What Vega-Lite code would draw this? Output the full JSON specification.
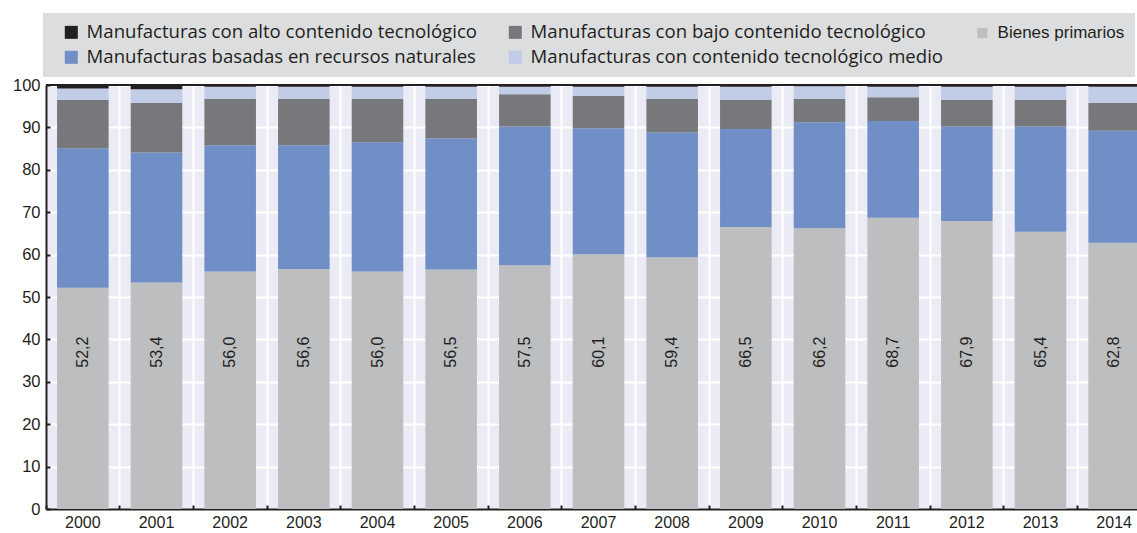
{
  "$schema": "https://vega.github.io/schema/vega-lite/v6.json",
  "autosize": {"type": "none"},
  "padding": {"left": 46, "top": 85, "right": 0, "bottom": 24},
  "width": 1091,
  "height": 424,
  "background": "white",
  "data": {"values": [
    {"year": "2000", "cat": "Bienes primarios", "value": 52.2},
    {"year": "2000", "cat": "Manufacturas basadas en recursos naturales", "value": 32.9},
    {"year": "2000", "cat": "Manufacturas con bajo contenido tecnológico", "value": 11.4},
    {"year": "2000", "cat": "Manufacturas con contenido tecnológico medio", "value": 2.7},
    {"year": "2000", "cat": "Manufacturas con alto contenido tecnológico", "value": 0.8},
    {"year": "2001", "cat": "Bienes primarios", "value": 53.4},
    {"year": "2001", "cat": "Manufacturas basadas en recursos naturales", "value": 30.7},
    {"year": "2001", "cat": "Manufacturas con bajo contenido tecnológico", "value": 11.7},
    {"year": "2001", "cat": "Manufacturas con contenido tecnológico medio", "value": 3.2},
    {"year": "2001", "cat": "Manufacturas con alto contenido tecnológico", "value": 1.0},
    {"year": "2002", "cat": "Bienes primarios", "value": 56.0},
    {"year": "2002", "cat": "Manufacturas basadas en recursos naturales", "value": 29.8},
    {"year": "2002", "cat": "Manufacturas con bajo contenido tecnológico", "value": 10.9},
    {"year": "2002", "cat": "Manufacturas con contenido tecnológico medio", "value": 2.9},
    {"year": "2002", "cat": "Manufacturas con alto contenido tecnológico", "value": 0.4},
    {"year": "2003", "cat": "Bienes primarios", "value": 56.6},
    {"year": "2003", "cat": "Manufacturas basadas en recursos naturales", "value": 29.2},
    {"year": "2003", "cat": "Manufacturas con bajo contenido tecnológico", "value": 10.9},
    {"year": "2003", "cat": "Manufacturas con contenido tecnológico medio", "value": 2.9},
    {"year": "2003", "cat": "Manufacturas con alto contenido tecnológico", "value": 0.4},
    {"year": "2004", "cat": "Bienes primarios", "value": 56.0},
    {"year": "2004", "cat": "Manufacturas basadas en recursos naturales", "value": 30.5},
    {"year": "2004", "cat": "Manufacturas con bajo contenido tecnológico", "value": 10.2},
    {"year": "2004", "cat": "Manufacturas con contenido tecnológico medio", "value": 2.9},
    {"year": "2004", "cat": "Manufacturas con alto contenido tecnológico", "value": 0.4},
    {"year": "2005", "cat": "Bienes primarios", "value": 56.5},
    {"year": "2005", "cat": "Manufacturas basadas en recursos naturales", "value": 30.9},
    {"year": "2005", "cat": "Manufacturas con bajo contenido tecnológico", "value": 9.3},
    {"year": "2005", "cat": "Manufacturas con contenido tecnológico medio", "value": 2.9},
    {"year": "2005", "cat": "Manufacturas con alto contenido tecnológico", "value": 0.4},
    {"year": "2006", "cat": "Bienes primarios", "value": 57.5},
    {"year": "2006", "cat": "Manufacturas basadas en recursos naturales", "value": 32.7},
    {"year": "2006", "cat": "Manufacturas con bajo contenido tecnológico", "value": 7.6},
    {"year": "2006", "cat": "Manufacturas con contenido tecnológico medio", "value": 1.8},
    {"year": "2006", "cat": "Manufacturas con alto contenido tecnológico", "value": 0.4},
    {"year": "2007", "cat": "Bienes primarios", "value": 60.1},
    {"year": "2007", "cat": "Manufacturas basadas en recursos naturales", "value": 29.7},
    {"year": "2007", "cat": "Manufacturas con bajo contenido tecnológico", "value": 7.6},
    {"year": "2007", "cat": "Manufacturas con contenido tecnológico medio", "value": 2.2},
    {"year": "2007", "cat": "Manufacturas con alto contenido tecnológico", "value": 0.4},
    {"year": "2008", "cat": "Bienes primarios", "value": 59.4},
    {"year": "2008", "cat": "Manufacturas basadas en recursos naturales", "value": 29.4},
    {"year": "2008", "cat": "Manufacturas con bajo contenido tecnológico", "value": 7.9},
    {"year": "2008", "cat": "Manufacturas con contenido tecnológico medio", "value": 2.9},
    {"year": "2008", "cat": "Manufacturas con alto contenido tecnológico", "value": 0.4},
    {"year": "2009", "cat": "Bienes primarios", "value": 66.5},
    {"year": "2009", "cat": "Manufacturas basadas en recursos naturales", "value": 23.1},
    {"year": "2009", "cat": "Manufacturas con bajo contenido tecnológico", "value": 6.9},
    {"year": "2009", "cat": "Manufacturas con contenido tecnológico medio", "value": 3.1},
    {"year": "2009", "cat": "Manufacturas con alto contenido tecnológico", "value": 0.4},
    {"year": "2010", "cat": "Bienes primarios", "value": 66.2},
    {"year": "2010", "cat": "Manufacturas basadas en recursos naturales", "value": 25.0},
    {"year": "2010", "cat": "Manufacturas con bajo contenido tecnológico", "value": 5.5},
    {"year": "2010", "cat": "Manufacturas con contenido tecnológico medio", "value": 3.0},
    {"year": "2010", "cat": "Manufacturas con alto contenido tecnológico", "value": 0.3},
    {"year": "2011", "cat": "Bienes primarios", "value": 68.7},
    {"year": "2011", "cat": "Manufacturas basadas en recursos naturales", "value": 22.8},
    {"year": "2011", "cat": "Manufacturas con bajo contenido tecnológico", "value": 5.6},
    {"year": "2011", "cat": "Manufacturas con contenido tecnológico medio", "value": 2.5},
    {"year": "2011", "cat": "Manufacturas con alto contenido tecnológico", "value": 0.4},
    {"year": "2012", "cat": "Bienes primarios", "value": 67.9},
    {"year": "2012", "cat": "Manufacturas basadas en recursos naturales", "value": 22.3},
    {"year": "2012", "cat": "Manufacturas con bajo contenido tecnológico", "value": 6.3},
    {"year": "2012", "cat": "Manufacturas con contenido tecnológico medio", "value": 3.1},
    {"year": "2012", "cat": "Manufacturas con alto contenido tecnológico", "value": 0.4},
    {"year": "2013", "cat": "Bienes primarios", "value": 65.4},
    {"year": "2013", "cat": "Manufacturas basadas en recursos naturales", "value": 24.8},
    {"year": "2013", "cat": "Manufacturas con bajo contenido tecnológico", "value": 6.3},
    {"year": "2013", "cat": "Manufacturas con contenido tecnológico medio", "value": 3.1},
    {"year": "2013", "cat": "Manufacturas con alto contenido tecnológico", "value": 0.4},
    {"year": "2014", "cat": "Bienes primarios", "value": 62.8},
    {"year": "2014", "cat": "Manufacturas basadas en recursos naturales", "value": 26.4},
    {"year": "2014", "cat": "Manufacturas con bajo contenido tecnológico", "value": 6.6},
    {"year": "2014", "cat": "Manufacturas con contenido tecnológico medio", "value": 3.8},
    {"year": "2014", "cat": "Manufacturas con alto contenido tecnológico", "value": 0.4}
  ]},
  "transform": [
    {"calculate": "indexof(['Bienes primarios','Manufacturas basadas en recursos naturales','Manufacturas con bajo contenido tecnológico','Manufacturas con contenido tecnológico medio','Manufacturas con alto contenido tecnológico'], datum.cat)", "as": "stackorder"}
  ],
  "layer": [
    {
      "mark": {"type": "bar", "width": {"band": 0.7}},
      "encoding": {
        "x": {
          "field": "year", "type": "ordinal", "title": null,
          "scale": {"paddingInner": 0, "paddingOuter": 0, "range": [0, 1105]},
          "axis": {
            "labelAngle": 0, "bandPosition": 0, "grid": true, "gridColor": "white", "gridWidth": 2,
            "domainColor": "#231f20", "domainWidth": 2, "tickColor": "#231f20", "tickSize": -4, "tickWidth": 2,
            "labelFont": "Liberation Sans", "labelFontSize": 16, "labelColor": "#231f20", "labelPadding": 9
          }
        },
        "y": {
          "field": "value", "type": "quantitative", "stack": "zero", "title": null,
          "scale": {"domain": [0, 100], "nice": false},
          "axis": {
            "values": [0, 10, 20, 30, 40, 50, 60, 70, 80, 90, 100],
            "grid": true, "gridColor": "white", "gridWidth": 2,
            "domainColor": "#231f20", "domainWidth": 2, "tickColor": "#231f20", "tickSize": -4, "tickWidth": 2,
            "labelFont": "Liberation Sans", "labelFontSize": 16.5, "labelColor": "#231f20", "labelPadding": 10
          }
        },
        "color": {
          "field": "cat", "type": "nominal",
          "scale": {
            "domain": ["Manufacturas con alto contenido tecnológico", "Manufacturas con bajo contenido tecnológico", "Bienes primarios", "Manufacturas basadas en recursos naturales", "Manufacturas con contenido tecnológico medio"],
            "range": ["#231f20", "#77787b", "#bcbec0", "#6f8fc6", "#c1cce6"]
          },
          "legend": {
            "title": null, "orient": "none", "legendX": -3, "legendY": -72,
            "direction": "horizontal", "columns": 3, "gridAlign": "each",
            "fillColor": "#dcdddf", "padding": 10, "symbolOffset": 9,
            "columnPadding": 20, "rowPadding": 6,
            "symbolType": "square", "symbolSize": 169, "symbolStrokeWidth": 0, "symbolOpacity": 1,
            "labelFont": "Open Sans", "labelFontSize": 18.6, "labelColor": "#231f20", "labelLimit": 600, "labelOffset": 6,
            "encode": {
              "labels": {"update": {
                "font": {"signal": "datum.label === 'Bienes primarios' ? 'Liberation Sans' : 'Open Sans'"},
                "fontSize": {"signal": "datum.label === 'Bienes primarios' ? 17 : 18.6"}
              }},
              "symbols": {"update": {
                "size": {"signal": "datum.label === 'Bienes primarios' ? 100 : 169"}
              }}
            }
          }
        },
        "order": {"field": "stackorder", "type": "quantitative"}
      }
    },
    {
      "transform": [{"filter": "datum.cat === 'Bienes primarios'"}],
      "mark": {"type": "text", "angle": 270, "align": "center", "baseline": "middle", "font": "Liberation Sans", "fontSize": 16, "color": "#231f20"},
      "encoding": {
        "x": {"field": "year", "type": "ordinal", "title": null},
        "y": {"datum": 37},
        "text": {"field": "value", "type": "quantitative", "format": ".1f"}
      }
    },
    {
      "mark": {"type": "rule", "color": "#231f20", "strokeWidth": 2},
      "encoding": {"y": {"datum": 100}}
    }
  ],
  "config": {
    "view": {"fill": "#ebebf5", "stroke": null},
    "locale": {"number": {"decimal": ",", "thousands": ".", "grouping": [3], "currency": ["", " €"]}}
  }
}
